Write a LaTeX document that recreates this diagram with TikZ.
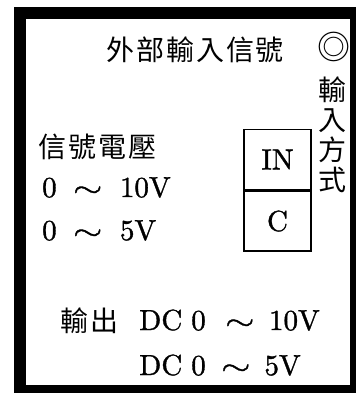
\documentclass[tikz,border=0pt]{standalone}
\usepackage{fontspec}
\usepackage{graphicx}
\newfontfamily\latinfont[FakeBold=1.2]{lmroman10-regular.otf}
\newfontfamily\mathsymfont[FakeBold=1.2]{latinmodern-math.otf}
\newfontfamily\cjkspaced[LetterSpace=7]{Noto Sans CJK TC}
\newfontfamily\cjkplain{Noto Sans CJK TC}
\newcommand\wavesym{\scalebox{1.3}[1]{\mathsymfont ∼}}
\begin{document}
\begin{tikzpicture}[x=1pt,y=-1pt,
  latin/.style={font=\fontsize{29}{34}\selectfont\latinfont, inner sep=0pt},
  cjktext/.style={font=\fontsize{28}{30}\selectfont\cjkspaced, inner sep=0pt},
  cjkcol/.style={font=\fontsize{28}{30}\selectfont\cjkplain, inner sep=0pt, align=center},
  termbox/.style={draw, line width=1.6pt, minimum width=67pt, minimum height=60pt,
    inner sep=0pt, font=\fontsize{29}{34}\selectfont\latinfont}]
\useasboundingbox (0,0) rectangle (356,393);
% frame
\fill[black] (14,7) rectangle (356,393);
\fill[white] (26,19) rectangle (350,385);
% title
\node[cjktext, anchor=base west] (title) at (106,61) {外部輸入信號};
\node[font=\fontsize{33}{36}\selectfont\cjkplain, inner sep=0pt, anchor=base] (mark) at (333.5,59.5) {◎};
% input mode column
\node[cjkcol] (mode) at (332,135) {輸\\入\\方\\式};
% terminal boxes
\node[termbox] (in) at (277.5,159.5) {IN};
\node[termbox, anchor=north] (c) at (in.south) {C};
% signal voltage
\node[cjktext, anchor=base west] (sig) at (38,157) {信號電壓};
\node[latin, anchor=base west] (v1) at (42,197) {0\hspace{16.5pt}\wavesym\hspace{17.6pt}10V};
\node[latin, anchor=base west] (v2) at (42,240) {0\hspace{16.5pt}\wavesym\hspace{17.6pt}5V};
% output
\node[cjktext, anchor=base west] (out) at (60,331) {輸出};
\node[latin, anchor=base west] (o1) at (139,330) {DC\hspace{9pt}0\hspace{19.5pt}\wavesym\hspace{14.6pt}10V};
\node[latin, anchor=base west] (o2) at (139,375) {DC\hspace{9pt}0\hspace{15.5pt}\wavesym\hspace{14pt}5V};
\end{tikzpicture}
\end{document}
